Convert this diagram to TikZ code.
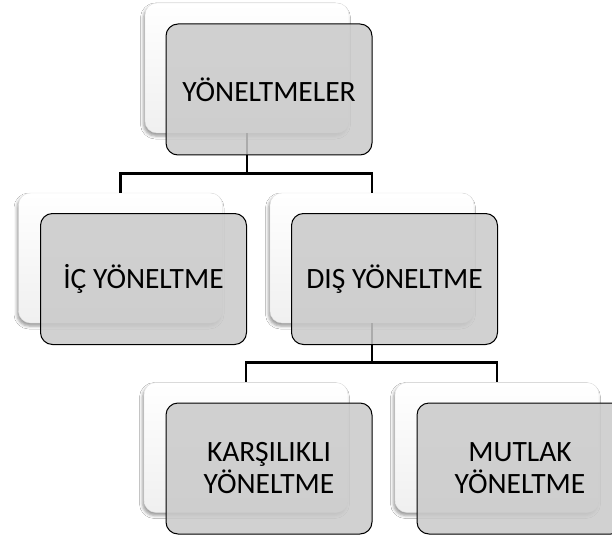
\documentclass[tikz,border=0pt]{standalone}
\usepackage{fontspec}
\setmainfont{Carlito}
\usetikzlibrary{shadows.blur}

\begin{document}
\begin{tikzpicture}[x=1pt, y=-1pt,
		card/.style={rectangle, rounded corners=12pt, minimum width=204pt, minimum height=130pt,
			draw=black!12, top color=white, bottom color=black!6,
			blur shadow={shadow xshift=-1.5pt, shadow yshift=-3pt, shadow blur radius=3pt, shadow opacity=40}},
		label/.style={rectangle, rounded corners=12pt, minimum width=206pt, minimum height=131pt,
			draw=black, line width=1pt, fill=black!21, fill opacity=0.85, text opacity=1,
			align=center, font=\fontsize{29.5}{32}\selectfont},
		link/.style={draw, line width=2.6pt}]
		%%%%% START %%%%%
		
		\useasboundingbox (0, 0) rectangle (612, 540);
		\fill[white] (0, 0) rectangle (612, 540);
		
		% white back cards
		\node[card] (topc) at (247, 68) {};
		\node[card] (icc) at (120.5, 258) {};
		\node[card] (disc) at (372, 258) {};
		\node[card] (karc) at (246, 447.5) {};
		\node[card] (mutc) at (497, 447.5) {};
		
		% tree lines
		\coordinate (split1) at ([yshift=-40pt]topc.south);
		\coordinate (split2) at ([yshift=-39pt]disc.south);
		\draw[link] (topc.south) -- (split1) -| (icc.north);
		\draw[link] (split1) -| (disc.north);
		\draw[link] (disc.south) -- (split2) -| (karc.north);
		\draw[link] (split2) -| (mutc.north);
		
		% grey front cards
		\node[label] (top) at (269, 89.5) {YÖNELTMELER};
		\node[label] (ic) at (143.5, 279) {İÇ YÖNELTME};
		\node[label] (dis) at (394.5, 279) {DIŞ YÖNELTME};
		\node[label] (kar) at (269, 468.5) {KARŞILIKLI\\YÖNELTME};
		\node[label] (mut) at (520, 468.5) {MUTLAK\\YÖNELTME};
		
		%%%%% END %%%%%
	\end{tikzpicture}
\end{document}
